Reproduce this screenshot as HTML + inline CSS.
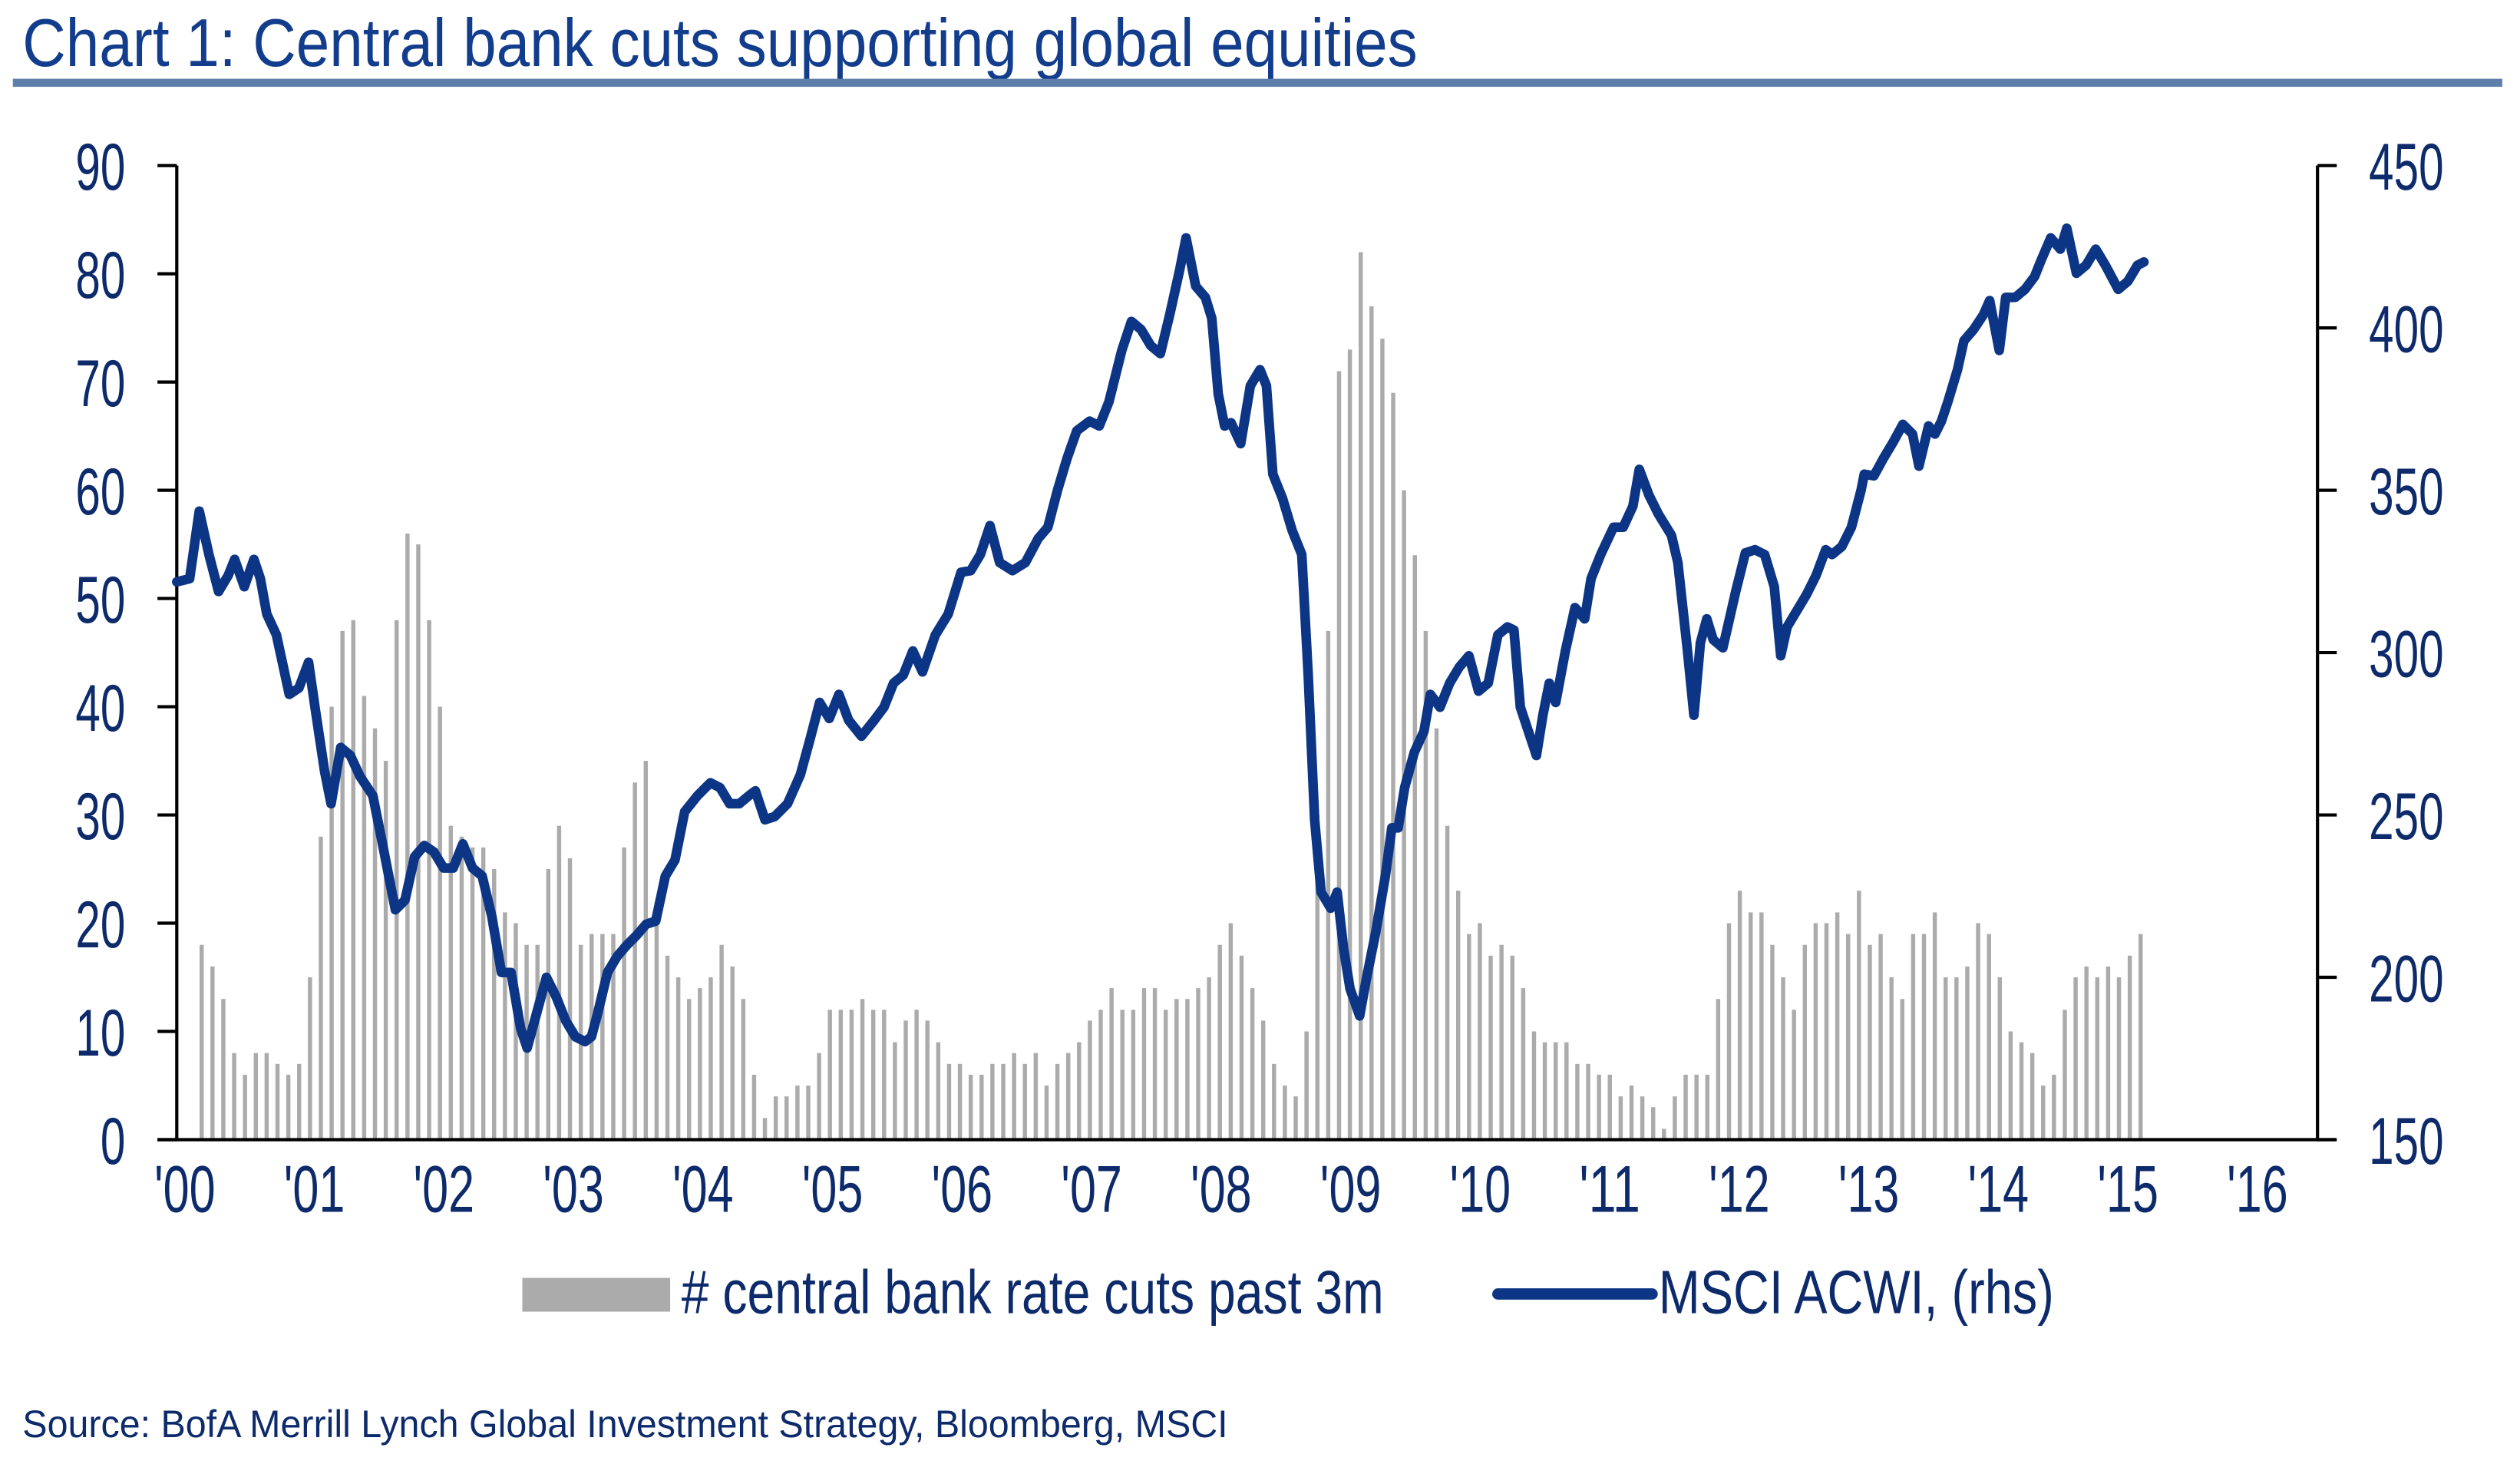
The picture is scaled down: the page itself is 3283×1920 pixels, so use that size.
<!DOCTYPE html>
<html><head><meta charset="utf-8"><style>
html,body{margin:0;padding:0;background:#fff;}
svg{display:block;}
text{font-family:"Liberation Sans Narrow","Liberation Sans",sans-serif;}
</style></head><body>
<svg id="c" width="3283" height="1920" viewBox="0 0 1568 917" preserveAspectRatio="none" xmlns="http://www.w3.org/2000/svg">
<rect width="1568" height="917" fill="#fff"/>
<text x="14" y="41" font-size="42" fill="#123c8c" textLength="868" lengthAdjust="spacingAndGlyphs">Chart 1: Central bank cuts supporting global equities</text>
<rect x="8" y="49" width="1549" height="5" fill="#5f7fab"/>
<g id="bars" fill="#ababab"></g>
<g stroke="#000" stroke-width="2" fill="none">
<line x1="110" y1="103" x2="110" y2="710"/>
<line x1="1442" y1="103" x2="1442" y2="710"/>
<line x1="98" y1="709" x2="1453" y2="709"/>
</g>
<g id="ticks" stroke="#000" stroke-width="2"></g>
<g id="labels" font-size="41" fill="#0d2a6b"></g>
<polyline id="line" fill="none" stroke="#0c3585" stroke-width="6" stroke-linejoin="round" stroke-linecap="round"/>
<rect x="325" y="795" width="92" height="21" fill="#ababab"/>
<text x="424" y="817" font-size="38" fill="#0d2a6b" textLength="437" lengthAdjust="spacingAndGlyphs"># central bank rate cuts past 3m</text>
<line x1="932" y1="805" x2="1028" y2="805" stroke="#0c3585" stroke-width="7" stroke-linecap="round"/>
<text x="1032" y="817" font-size="38" fill="#0d2a6b" textLength="246" lengthAdjust="spacingAndGlyphs">MSCI ACWI, (rhs)</text>
<text x="14" y="894" font-size="24" fill="#0d2a6b" textLength="750" lengthAdjust="spacingAndGlyphs">Source: BofA Merrill Lynch Global Investment Strategy, Bloomberg, MSCI</text>
</svg>
<script>
var NS="http://www.w3.org/2000/svg";
function el(t,a,p){var e=document.createElementNS(NS,t);for(var k in a)e.setAttribute(k,a[k]);if(p)p.appendChild(e);return e;}
var data=[0,0,18,16,13,8,6,8,8,7,6,7,15,28,40,47,48,41,38,35,48,56,55,48,40,29,28,27,27,25,21,20,18,18,25,29,26,18,19,19,19,27,33,35,22,17,15,13,14,15,18,16,13,6,2,4,4,5,5,8,12,12,12,13,12,12,9,11,12,
11,9,7,7,6,6,7,7,8,7,8,5,7,8,9,11,12,14,12,12,14,14,12,13,13,14,15,18,20,17,14,11,7,5,4,10,30,47,71,73,82,77,74,69,60,54,47,38,29,23,19,20,17,18,17,14,10,9,9,9,7,7,6,6,4,5,4,
3,1,4,6,6,6,13,20,23,21,21,18,15,12,18,20,20,21,19,23,18,19,15,13,19,19,21,15,15,16,20,19,15,10,9,8,5,6,12,15,16,15,16,15,17,19];
var bars=document.getElementById('bars');
var y0=709,sy=606/90;
data.forEach(function(v,i){if(!v)return;var x=112+6.74*i-1.3;el('rect',{x:x.toFixed(2),y:(y0-v*sy).toFixed(2),width:2.6,height:(v*sy).toFixed(2)},bars);});
var tk=document.getElementById('ticks'),lb=document.getElementById('labels');
function lab(s,x,y,anchor){var t=el('text',{x:x,y:y,'text-anchor':anchor,textLength:s.length*15.5,lengthAdjust:'spacingAndGlyphs'},lb);t.textContent=s;}
for(var i=0;i<=9;i++){var y=709-i*606/9;el('line',{x1:98,y1:y,x2:110,y2:y},tk);lab(String(i*10),78,y+15,'end');}
for(var i=0;i<=6;i++){var y=709-i*101;el('line',{x1:1442,y1:y,x2:1454,y2:y},tk);lab(String(150+i*50),1474,y+15,'start');}
for(var yr=0;yr<=16;yr++){var x=115+yr*80.6;var s="'"+(yr<10?"0":"")+yr;var t=el('text',{x:x,y:754,'text-anchor':'middle',textLength:38,lengthAdjust:'spacingAndGlyphs'},lb);t.textContent=s;}
var pts=[110,362,118,360,124,318,130,345,136,368,142,358,146,348,152,365,158,348,162,360,166,382,172,395,180,432,186,428,192,412,196,440,202,480,206,500,212,465,218,470,224,483,232,495,238,525,246,566,252,560,258,533,264,526,270,530,276,540,282,540,288,525,294,540,300,545,306,570,312,605,318,605,324,640,328,652,334,630,340,608,346,620,352,635,358,645,364,648,368,645,372,630,378,605,384,595,390,588,396,582,402,575,408,573,414,545,420,535,426,505,434,495,442,487,448,490,454,500,460,500,466,495,470,492,476,510,482,508,490,500,498,482,504,460,510,437,516,447,522,432,528,448,536,458,544,448,550,440,556,425,562,420,568,405,574,418,582,395,590,382,598,356,604,355,610,345,616,327,622,350,630,355,638,350,646,335,652,328,658,305,664,285,670,268,678,262,684,265,690,250,698,218,704,200,710,205,716,215,722,220,728,195,734,168,738,148,744,178,750,185,754,198,758,245,762,265,766,263,772,276,778,240,784,230,788,240,792,295,798,310,804,330,810,345,814,420,818,510,822,555,828,565,832,555,836,590,840,615,846,632,850,610,856,580,862,545,866,515,870,515,874,490,880,468,886,455,890,432,896,440,902,425,908,415,914,408,920,430,926,425,932,395,938,390,942,392,946,440,952,458,956,470,960,445,964,425,968,437,974,405,980,378,986,385,990,360,996,345,1004,328,1010,328,1016,315,1020,292,1026,308,1032,320,1040,333,1044,350,1050,405,1054,445,1058,400,1062,385,1066,398,1072,403,1080,368,1086,344,1092,342,1098,345,1104,365,1108,408,1112,390,1118,380,1124,370,1130,358,1136,342,1140,345,1146,340,1152,328,1158,305,1160,295,1166,296,1172,285,1178,275,1184,264,1190,270,1194,290,1200,265,1204,270,1208,262,1212,250,1218,230,1222,212,1228,205,1234,196,1238,187,1244,218,1248,185,1254,185,1260,180,1266,172,1270,162,1276,148,1282,155,1286,142,1292,170,1298,165,1304,155,1310,165,1318,180,1324,175,1330,165,1334,163];
document.getElementById('line').setAttribute('points',pts.join(' '));
</script>
</body></html>
